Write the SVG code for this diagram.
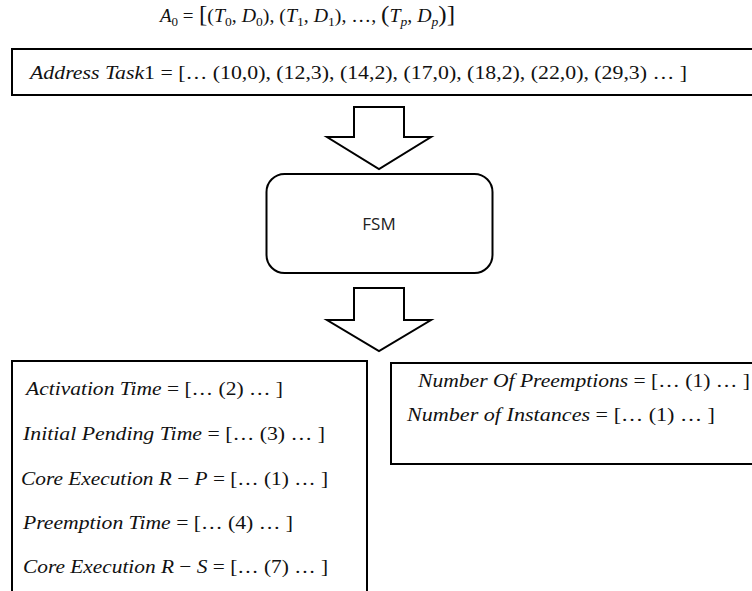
<svg xmlns="http://www.w3.org/2000/svg" width="752" height="591" viewBox="0 0 752 591">
<style>
.box{fill:#fff;stroke:#000;stroke-width:2}
.arrow{fill:#fff;stroke:#000;stroke-width:2;stroke-linejoin:miter}
.m{font-family:"Liberation Serif","DejaVu Serif",serif;font-size:19px;fill:#111}
.i{font-style:italic}
.sub{font-size:13px}
.big{font-size:24px}
.sans{font-family:"Open Sans","Noto Sans","Liberation Sans",sans-serif;font-size:17px;fill:#222}
</style>
<rect width="752" height="591" fill="#fff"/>
<g id="title">
<text class="m" x="160" y="22"><tspan class="i">A</tspan><tspan class="sub" dy="4">0</tspan><tspan dy="-4"> =</tspan></text>
<text class="m" x="199" y="22" textLength="256" lengthAdjust="spacingAndGlyphs"><tspan class="big">[</tspan>(<tspan class="i">T</tspan><tspan class="sub" dy="4">0</tspan><tspan dy="-4">, </tspan><tspan class="i">D</tspan><tspan class="sub" dy="4">0</tspan><tspan dy="-4">), (</tspan><tspan class="i">T</tspan><tspan class="sub" dy="4">1</tspan><tspan dy="-4">, </tspan><tspan class="i">D</tspan><tspan class="sub" dy="4">1</tspan><tspan dy="-4">), …, </tspan><tspan class="big">(</tspan><tspan class="i">T</tspan><tspan class="sub i" dy="4">p</tspan><tspan dy="-4">, </tspan><tspan class="i">D</tspan><tspan class="sub i" dy="4">p</tspan><tspan class="big" dy="-4">)]</tspan></text>
</g>
<g id="node-address">
<rect class="box" x="12" y="49" width="750" height="46"/>
<text class="m" x="30" y="79" textLength="657" lengthAdjust="spacingAndGlyphs"><tspan class="i">Address Task</tspan>1 = [… (10,0), (12,3), (14,2), (17,0), (18,2), (22,0), (29,3) … ]</text>
</g>
<g id="connectors">
<polygon class="arrow" points="354,107 404,107 404,137 431,137 379,169 327,137 354,137"/>
<polygon class="arrow" points="354,288 404,288 404,320 431,320 379,351 327,320 354,320"/>
</g>
<g id="node-fsm">
<rect class="box" x="266.5" y="174" width="226" height="99" rx="18" ry="18"/>
<text class="sans" x="379" y="230" text-anchor="middle">FSM</text>
</g>
<g id="node-outputs-left">
<rect class="box" x="12" y="361" width="355" height="240"/>
<text class="m" x="26" y="395" textLength="257" lengthAdjust="spacingAndGlyphs"><tspan class="i">Activation Time</tspan> = [… (2) … ]</text>
<text class="m" x="23" y="440" textLength="302" lengthAdjust="spacingAndGlyphs"><tspan class="i">Initial Pending Time</tspan> = [… (3) … ]</text>
<text class="m" x="21" y="485" textLength="307" lengthAdjust="spacingAndGlyphs"><tspan class="i">Core Execution R</tspan> − <tspan class="i">P</tspan> = [… (1) … ]</text>
<text class="m" x="23" y="529" textLength="270" lengthAdjust="spacingAndGlyphs"><tspan class="i">Preemption Time</tspan> = [… (4) … ]</text>
<text class="m" x="23" y="573" textLength="305" lengthAdjust="spacingAndGlyphs"><tspan class="i">Core Execution R</tspan> − <tspan class="i">S</tspan> = [… (7) … ]</text>
</g>
<g id="node-outputs-right">
<rect class="box" x="391" y="363" width="371" height="101"/>
<text class="m" x="418" y="387" textLength="332" lengthAdjust="spacingAndGlyphs"><tspan class="i">Number Of Preemptions</tspan> = [… (1) … ]</text>
<text class="m" x="407" y="421" textLength="308" lengthAdjust="spacingAndGlyphs"><tspan class="i">Number of Instances</tspan> = [… (1) … ]</text>
</g>
</svg>
